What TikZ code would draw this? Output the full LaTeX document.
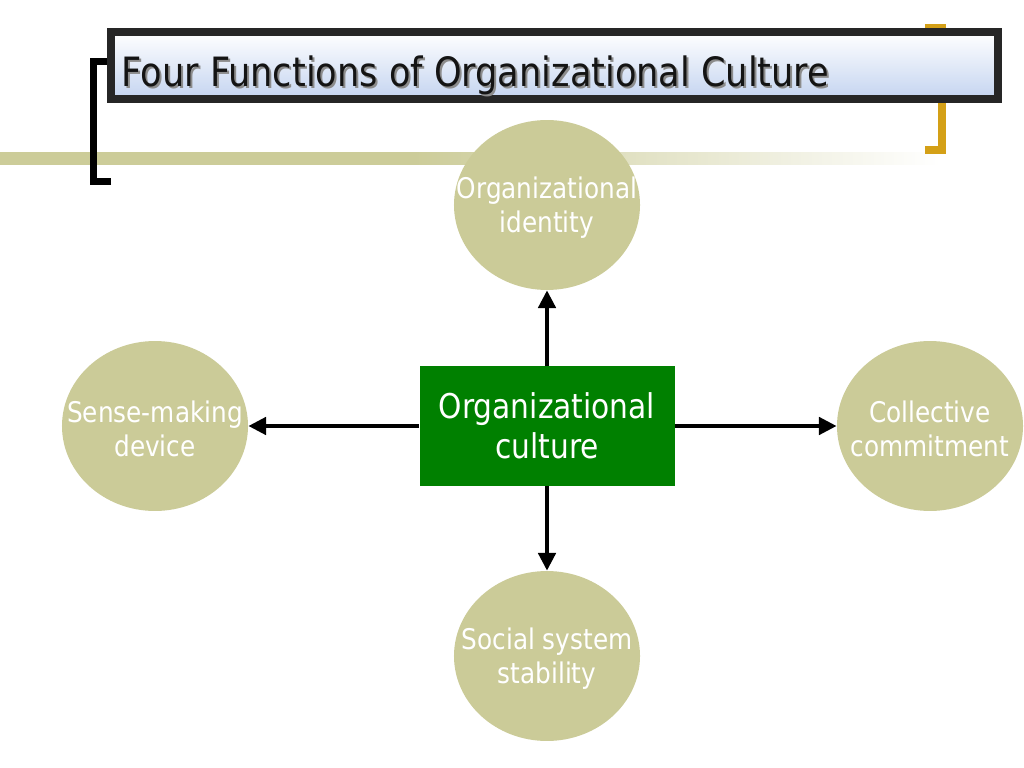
\documentclass[tikz,border=0pt]{standalone}
\usepackage{fontspec}
\setmainfont[FakeStretch=0.87]{DejaVu Sans}
\usetikzlibrary{shapes.geometric,arrows.meta}
\definecolor{bandolive}{RGB}{204,204,153}
\definecolor{circolive}{RGB}{203,203,152}
\definecolor{boxgreen}{RGB}{0,128,0}
\definecolor{boxdark}{RGB}{38,38,38}
\definecolor{titleblue}{RGB}{196,212,240}
\definecolor{bracketgold}{RGB}{212,160,23}
\pgfdeclarehorizontalshading{bandshade}{100bp}{color(0bp)=(bandolive); color(25bp)=(bandolive); color(47bp)=(bandolive); color(75bp)=(white); color(100bp)=(white)}
\tikzset{
  func/.style={ellipse, fill=circolive, inner sep=0pt, minimum width=130.8pt, minimum height=119.5pt},
  functext/.style={text=white, align=center, font=\fontsize{20}{24}\selectfont},
  core/.style={rectangle, fill=boxgreen, inner sep=0pt, minimum width=179.3pt, minimum height=83.7pt,
    text=white, align=center, font=\fontsize{24}{28}\selectfont},
  link/.style={line width=3.1pt, -{Triangle[length=12.5pt,width=12pt]}},
  bracketline/.style={line width=5.6pt, line cap=butt, line join=miter},
}
\begin{document}
\begin{tikzpicture}[x=0.703125pt,y=-0.703125pt]
\useasboundingbox (0,0) rectangle (1024,768);
% band
\shade[shading=bandshade] (0,153) rectangle (940,165);
% brackets
\draw[bracketline, black] (111,181.5) -- (93.5,181.5) -- (93.5,61.5) -- (110,61.5);
\draw[bracketline, bracketgold] (925,28) -- (942,28) -- (942,150) -- (925,150);
% title box
\node[draw=boxdark, line width=5.6pt, top color=white, bottom color=titleblue,
      inner sep=0pt, minimum width=623.7pt, minimum height=47.1pt] (titlebox) at (554.5,65.5) {};
\node[anchor=base west, text=black!45, font=\fontsize{28.4}{34}\selectfont, inner sep=0pt] (titleshadow) at (123.5,88.5) {Four Functions of Organizational Culture};
\node[anchor=base west, text=black!92, font=\fontsize{28.4}{34}\selectfont, inner sep=0pt] (titletext) at (121.5,86.5) {Four Functions of Organizational Culture};
% functions
\node[func] (top) at (547,205) {};
\node[functext] at ([yshift=-2pt]top.center) {Organizational\\identity};
\node[func] (left) at (155,426) {};
\node[functext] at ([yshift=-2pt]left.center) {Sense-making\\device};
\node[func] (right) at (930,426) {};
\node[functext] at ([yshift=-2pt]right.center) {Collective\\commitment};
\node[func] (bottom) at (547,656) {};
\node[functext] at ([yshift=-2pt]bottom.center) {Social system\\stability};
% core
\node[core] (culture) at (547,426) {Organizational\\culture};
% links
\draw[link] (culture.north) -- (top.south);
\draw[link] (culture.south) -- (bottom.north);
\draw[link] (culture.west) -- (left.east);
\draw[link] (culture.east) -- (right.west);
\end{tikzpicture}
\end{document}
